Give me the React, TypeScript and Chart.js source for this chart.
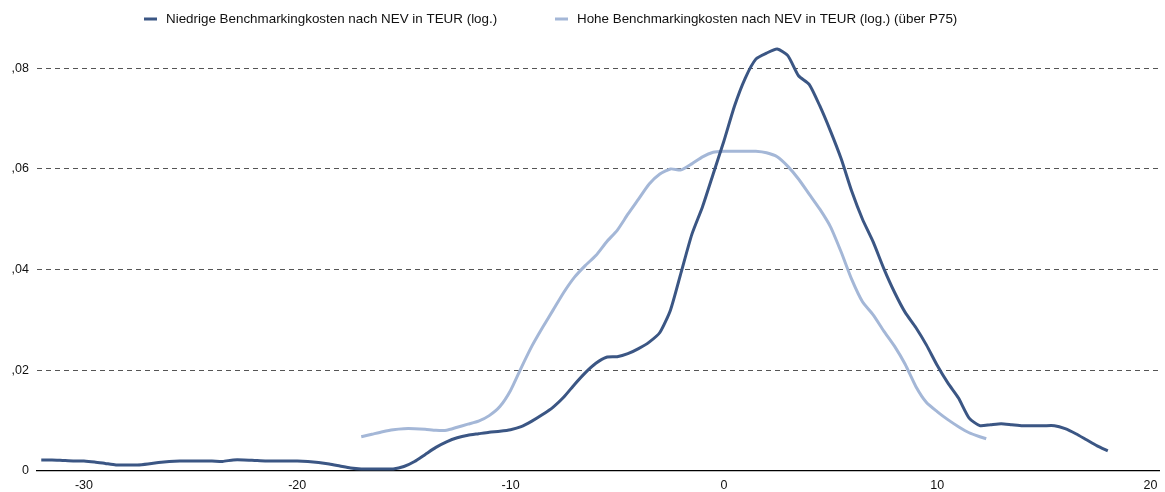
import React, { useEffect, useRef } from "react";
import { Chart, registerables } from "chart.js";

Chart.register(...registerables);

const seriesLabels = [
  "Niedrige Benchmarkingkosten nach NEV in TEUR (log.)",
  "Hohe Benchmarkingkosten nach NEV in TEUR (log.) (über P75)",
];

const xTicks = [-30, -20, -10, 0, 10, 20];
const yTicks = [0, 0.02, 0.04, 0.06, 0.08];

const lowX = [
  -32, -31.5, -31, -30.5, -30, -29.5, -29, -28.5, -28, -27.5, -27, -26.5, -26, -25.5, -25, -24.5, -24,
  -23.5, -23, -22.5, -22, -21.5, -21, -20.5, -20, -19.5, -19, -18.5, -18, -17.5, -17, -16.5, -16, -15.5,
  -15, -14.5, -14, -13.5, -13, -12.5, -12, -11.5, -11, -10.5, -10, -9.5, -9, -8.5, -8, -7.5, -7, -6.5,
  -6, -5.5, -5, -4.5, -4, -3.5, -3, -2.5, -2, -1.5, -1, -0.5, 0, 0.5, 1, 1.5, 2, 2.5, 3, 3.5, 4, 4.5, 5,
  5.5, 6, 6.5, 7, 7.5, 8, 8.5, 9, 9.5, 10, 10.5, 11, 11.5, 12, 12.5, 13, 13.5, 14, 14.5, 15, 15.5, 16,
  16.5, 17, 17.5, 18,
];
const lowY = [
  0.0022, 0.0022, 0.0021, 0.002, 0.002, 0.0018, 0.0015, 0.0012, 0.0012, 0.0012, 0.0014, 0.0017, 0.0019,
  0.002, 0.002, 0.002, 0.002, 0.0019, 0.0022, 0.0022, 0.0021, 0.002, 0.002, 0.002, 0.002, 0.0019, 0.0017,
  0.0014, 0.001, 0.0006, 0.0004, 0.0004, 0.0004, 0.0004, 0.0009, 0.0019, 0.0033, 0.0047, 0.0058, 0.0066,
  0.0071, 0.0074, 0.0077, 0.0079, 0.0082, 0.0088, 0.0099, 0.0112, 0.0127, 0.0147, 0.0172, 0.0195, 0.0214,
  0.0226, 0.0227, 0.0233, 0.0243, 0.0256, 0.0275, 0.032, 0.0395, 0.047, 0.0525, 0.059, 0.0655, 0.0725,
  0.078, 0.0818, 0.083, 0.0838, 0.0825, 0.0785, 0.0768, 0.0725, 0.0675, 0.062, 0.0555, 0.05, 0.0455,
  0.0402, 0.0355, 0.0315, 0.0285, 0.025, 0.021, 0.0175, 0.0145, 0.0105, 0.009, 0.0092, 0.0094, 0.0092,
  0.009, 0.009, 0.009, 0.009, 0.0084, 0.0074, 0.0062, 0.005, 0.004,
];

const highX = [
  -17, -16.5, -16, -15.5, -15, -14.5, -14, -13.5, -13, -12.5, -12, -11.5, -11, -10.5, -10, -9.5, -9,
  -8.5, -8, -7.5, -7, -6.5, -6, -5.5, -5, -4.5, -4, -3.5, -3, -2.5, -2, -1.5, -1, -0.5, 0, 0.5, 1, 1.5,
  2, 2.5, 3, 3.5, 4, 4.5, 5, 5.5, 6, 6.5, 7, 7.5, 8, 8.5, 9, 9.5, 10, 10.5, 11, 11.5, 12, 12.3,
];
const highY = [
  0.0068, 0.0073, 0.0078, 0.0082, 0.0084, 0.0084, 0.0083, 0.0081, 0.0081, 0.0087, 0.0093, 0.0099, 0.011,
  0.0128, 0.016, 0.0205, 0.0248, 0.0285, 0.032, 0.0355, 0.0385, 0.0408, 0.0428, 0.0455, 0.0478, 0.051,
  0.054, 0.057, 0.059, 0.06, 0.0598, 0.061, 0.0624, 0.0633, 0.0635, 0.0635, 0.0635, 0.0635, 0.0632,
  0.0624, 0.0605, 0.058, 0.055, 0.052, 0.0485, 0.0435, 0.038, 0.0336, 0.031, 0.0278, 0.0248, 0.0212,
  0.0168, 0.0136, 0.0118, 0.0102, 0.0088, 0.0076, 0.0068, 0.0064,
];

const DARK = "#3b5684";
const LIGHT = "#a4b7d7";
const FONT = "'Liberation Sans', Arial, sans-serif";

const legendPlugin = {
  id: "customLegend",
  afterDraw(chart: any) {
    const ctx = chart.ctx;
    const starts = [144, 555];
    const y = 19;
    ctx.save();
    ctx.font = `13.4px ${FONT}`;
    ctx.textBaseline = "middle";
    ctx.textAlign = "left";
    chart.data.datasets.forEach((ds: any, i: number) => {
      const x = starts[i];
      ctx.fillStyle = ds.borderColor;
      ctx.fillRect(x, y - 1.5, 13, 3);
      ctx.fillStyle = "#111";
      ctx.fillText(ds.label, x + 22, y + 0.5);
    });
    ctx.restore();
  },
};

export default function App() {
  const ref = useRef<HTMLCanvasElement | null>(null);

  useEffect(() => {
    if (!ref.current) return;
    const chart = new Chart(ref.current, {
      type: "line",
      data: {
        datasets: [
          {
            label: seriesLabels[0],
            data: lowX.map((x, i) => ({ x, y: lowY[i] })),
            borderColor: DARK,
            backgroundColor: DARK,
            borderWidth: 3,
            pointRadius: 0,
            tension: 0.2,
          },
          {
            label: seriesLabels[1],
            data: highX.map((x, i) => ({ x, y: highY[i] })),
            borderColor: LIGHT,
            backgroundColor: LIGHT,
            borderWidth: 3,
            pointRadius: 0,
            tension: 0.2,
          },
        ],
      },
      options: {
        animation: false,
        responsive: true,
        maintainAspectRatio: false,
        layout: { padding: { top: 38, right: 6, left: 0, bottom: 0 } },
        plugins: {
          legend: { display: false },
          tooltip: { enabled: false },
        },
        scales: {
          x: {
            type: "linear",
            min: -32.2,
            max: 20.4,
            afterBuildTicks: (scale: any) => {
              scale.ticks = xTicks.map((v) => ({ value: v }));
            },
            afterFit: (scale: any) => {
              scale.height = 21;
            },
            grid: { display: false, drawTicks: false },
            border: { display: true, color: "#000", width: 1.2 },
            ticks: {
              padding: 7,
              color: "#111",
              font: { family: FONT, size: 12.5 },
              maxRotation: 0,
              callback: (v: any) => String(v),
            },
          },
          y: {
            type: "linear",
            min: 0,
            max: 0.086,
            afterBuildTicks: (scale: any) => {
              scale.ticks = yTicks.map((v) => ({ value: v }));
            },
            afterFit: (scale: any) => {
              scale.width = 37;
            },
            grid: {
              drawTicks: false,
              color: (c: any) => (c.tick && c.tick.value === 0 ? "rgba(0,0,0,0)" : "#555"),
              lineWidth: 1,
            },
            border: { display: false, dash: [5, 4] },
            ticks: {
              padding: 8,
              color: "#111",
              font: { family: FONT, size: 12.5 },
              callback: (v: any) => (v === 0 ? "0" : Number(v).toFixed(2).replace(/^0\./, ",")),
            },
          },
        },
      },
      plugins: [legendPlugin],
    });
    return () => chart.destroy();
  }, []);

  return (
    <div style={{ position: "fixed", left: 0, top: 0, width: 1165, height: 492, background: "#fff" }}>
      <canvas ref={ref} />
    </div>
  );
}
